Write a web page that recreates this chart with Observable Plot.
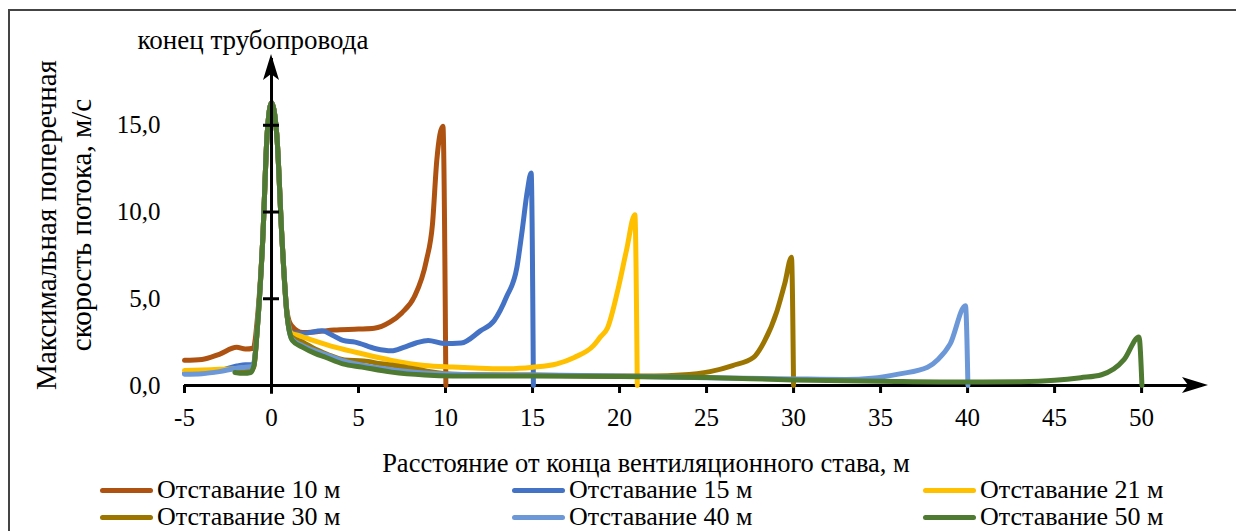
<!DOCTYPE html>
<html>
<head>
<meta charset="utf-8">
<script src="https://cdn.jsdelivr.net/npm/d3@7"></script>
<script src="https://cdn.jsdelivr.net/npm/@observablehq/plot@0.6"></script>
<style>
  html, body { margin: 0; padding: 0; background: #fff; }
  #wrap { position: relative; width: 1236px; height: 531px; overflow: hidden; font-family: "Liberation Serif", "DejaVu Serif", serif; color: #000; }
  #frame { position: absolute; left: 8px; top: 9px; width: 1400px; height: 700px; border-left: 2px solid #444; border-top: 2px solid #444; }
  #chart { position: absolute; left: 0; top: 0; }
  #chart svg, #chart svg text { font-family: "Liberation Serif", "DejaVu Serif", serif !important; }
  .t { position: absolute; white-space: nowrap; line-height: 1; }
  .ylab { position: absolute; white-space: nowrap; font-size: 29px; line-height: 1; transform: translate(-50%, -50%) rotate(-90deg); }
  .leg { position: absolute; display: flex; align-items: center; font-size: 26px; line-height: 1; white-space: nowrap; }
  .sw { width: 53px; height: 5px; border-radius: 3px; margin-right: 4px; }
</style>
</head>
<body>
<div id="wrap">
  <div id="frame"></div>
  <div id="chart"></div>
</div>
<script>
// ---- data ----
const xTicks = [-5, 0, 5, 10, 15, 20, 25, 30, 35, 40, 45, 50];
const yTicks = [0, 5, 10, 15];
const yTickLabels = ["0,0", "5,0", "10,0", "15,0"];
const seriesNames = ["Отставание 10 м", "Отставание 15 м", "Отставание 21 м", "Отставание 30 м", "Отставание 40 м", "Отставание 50 м"];
const seriesColors = ["#AE5212", "#4472C4", "#FFC000", "#9C7500", "#6D98D8", "#4E7A31"];
const titleTop = "конец трубопровода";
const yTitle = ["Максимальная поперечная", "скорость потока, м/с"];
const xTitle = "Расстояние от конца вентиляционного става, м";

const lag10 = [[-5,1.45],[-4,1.5],[-3,1.8],[-2,2.2],[-1.5,2.1],[-1.05,2.15],[-0.8,4],[-0.5,8.5],[-0.25,14.5],[0,16.3],[0.3,14.5],[0.6,8.5],[0.9,4.2],[1.15,3.45],[1.8,3.05],[2.6,3.1],[3.6,3.2],[5,3.25],[5.9,3.3],[6.8,3.65],[7.5,4.2],[8.2,5.1],[8.9,7.2],[9.25,9.3],[9.5,13],[9.85,14.95],[10.02,0]];
const lag15 = [[-5,0.7],[-4,0.72],[-3,0.85],[-2,1.12],[-1.5,1.2],[-1.05,1.2],[-0.8,3.5],[-0.5,8.5],[-0.25,14.5],[0,16.3],[0.3,14.5],[0.6,8.5],[0.9,4.0],[1.2,3.0],[1.8,3.0],[2.9,3.15],[3.5,2.9],[4.1,2.6],[4.8,2.5],[6.0,2.12],[6.9,2.0],[7.6,2.2],[8.3,2.45],[9.0,2.6],[9.9,2.42],[10.9,2.45],[12.0,3.15],[12.8,3.75],[13.5,5.1],[14.1,6.8],[14.4,8.9],[14.7,11.2],[14.92,12.25],[15.05,0]];
const lag21 = [[-5,0.87],[-4,0.9],[-3,0.93],[-2,0.96],[-1.5,1.0],[-1.05,1.0],[-0.8,3.5],[-0.5,8.5],[-0.25,14.5],[0,16.3],[0.3,14.5],[0.6,8.5],[0.9,4.0],[1.15,3.0],[1.5,2.9],[2.1,2.7],[3.7,2.2],[5.2,1.83],[6.9,1.45],[8.8,1.15],[10.4,1.06],[12,1.0],[13.5,0.96],[15,1.05],[16.4,1.25],[17.4,1.62],[18.5,2.3],[18.9,2.8],[19.3,3.3],[19.9,5.5],[20.4,7.8],[20.88,9.85],[21.02,0]];
const lag30 = [[-2.1,0.9],[-1.5,0.95],[-1.05,1.0],[-0.8,3.5],[-0.5,8.5],[-0.25,14.5],[0,16.3],[0.3,14.5],[0.6,8.5],[0.9,4.0],[1.15,2.8],[1.8,2.5],[2.5,2.1],[3.2,1.8],[4.2,1.47],[5.3,1.42],[6.3,1.25],[7.4,1.1],[8.8,0.85],[10.4,0.65],[15,0.6],[20,0.55],[22,0.55],[23.5,0.6],[25.2,0.8],[26.5,1.15],[27.7,1.62],[28.3,2.5],[29.05,4.3],[29.5,5.9],[29.88,7.4],[30.0,0]];
const lag40 = [[-5,0.65],[-4,0.68],[-3,0.8],[-2,1.0],[-1.5,1.05],[-1.05,1.1],[-0.8,3.5],[-0.5,8.5],[-0.25,14.5],[0,16.3],[0.3,14.5],[0.6,8.5],[0.9,4.0],[1.15,2.7],[1.8,2.3],[2.5,2.0],[3.2,1.75],[4.2,1.4],[5.3,1.15],[7,0.9],[8.8,0.72],[10.4,0.65],[15,0.6],[20,0.55],[25,0.45],[30,0.38],[33,0.35],[34.5,0.42],[36.1,0.67],[37.7,1.05],[38.3,1.5],[39,2.4],[39.88,4.6],[40.02,0]];
const lag50 = [[-2.1,0.75],[-1.6,0.7],[-1.2,0.75],[-1.0,1.2],[-0.8,3.5],[-0.5,8.5],[-0.25,14.5],[0,16.3],[0.3,14.5],[0.6,8.5],[0.9,4.0],[1.2,2.6],[1.8,2.2],[2.5,1.85],[3.1,1.63],[4.1,1.25],[5.2,1.06],[6.9,0.77],[8.8,0.6],[10.4,0.55],[15,0.55],[20,0.52],[25,0.46],[30,0.32],[35,0.25],[40,0.2],[43,0.22],[45,0.3],[46.5,0.45],[47.7,0.62],[49,1.5],[49.85,2.8],[50.02,0]];

const seriesData = [lag10, lag15, lag21, lag30, lag40, lag50];
const xDomain = [-5, 53.5];
const yDomain = [0, 18.85];

const rows = seriesData.flatMap((arr, i) => arr.map(([x, y]) => ({series: seriesNames[i], x, y})));

const W = 1236, H = 450, mL = 184, mR = 34, mT = 58, mB = 65;
const halfTick = 8 * (xDomain[1] - xDomain[0]) / (W - mL - mR);

const chart = Plot.plot({
  width: W, height: H,
  marginLeft: mL, marginRight: mR, marginTop: mT, marginBottom: mB,
  style: {fontFamily: "'Liberation Serif', 'DejaVu Serif', serif", fontSize: "25px", color: "#000", background: "transparent"},
  x: {domain: xDomain},
  y: {domain: yDomain},
  color: {domain: seriesNames, range: seriesColors},
  marks: [
    Plot.axisX({ticks: xTicks, tickSize: 8, tickPadding: 15, strokeWidth: 3, fontSize: 25, label: null,
      tickFormat: d => (d < 0 ? "-" + Math.abs(d) : String(d))}),
    Plot.axisY({ticks: yTicks, tickSize: 0, tickPadding: 24, fontSize: 25, label: null,
      tickFormat: d => yTickLabels[yTicks.indexOf(d)]}),
    Plot.ruleY([0], {x1: xDomain[0], x2: xDomain[1], stroke: "#000", strokeWidth: 3}),
    Plot.line(rows, {x: "x", y: "y", z: "series", stroke: "series", strokeWidth: 5, curve: "monotone-x", strokeLinejoin: "round", strokeLinecap: "round"}),
    Plot.ruleX([0], {y1: -0.5, y2: yDomain[1], stroke: "#000", strokeWidth: 3}),
    Plot.ruleY(yTicks.slice(1), {x1: -halfTick, x2: halfTick, stroke: "#000", strokeWidth: 3})
  ]
});
document.getElementById("chart").appendChild(chart);

// arrowheads at the ends of the drawn axes
const sx = chart.scale("x"), sy = chart.scale("y");
const svg = d3.select(chart);
const ax = sx.apply(xDomain[1]), ay = sy.apply(0);
svg.append("path")
  .attr("d", `M${ax + 6},${ay} L${ax - 20},${ay - 8} L${ax - 14},${ay} L${ax - 20},${ay + 8} Z`)
  .attr("fill", "#000");
const bx = sx.apply(0), by = sy.apply(yDomain[1]);
svg.append("path")
  .attr("d", `M${bx},${by - 4} L${bx - 8},${by + 22} L${bx},${by + 16} L${bx + 8},${by + 22} Z`)
  .attr("fill", "#000");

// texts
const wrap = document.getElementById("wrap");
function addText(txt, cls, left, top, extra) {
  const d = document.createElement("div");
  d.className = cls; d.textContent = txt;
  d.style.left = left + "px"; d.style.top = top + "px";
  if (extra) Object.assign(d.style, extra);
  wrap.appendChild(d);
  return d;
}
addText(titleTop, "t", 253, 40, {transform: "translate(-50%, -50%)", fontSize: "27px"});
addText(yTitle[0], "ylab", 46, 225);
addText(yTitle[1], "ylab", 81, 225);
addText(xTitle, "t", 646, 463, {transform: "translate(-50%, -50%)", fontSize: "26.5px"});

const legCols = [100, 512, 923];
const legRows = [490, 517];
seriesNames.forEach((name, i) => {
  const d = document.createElement("div");
  d.className = "leg";
  d.style.left = legCols[i % 3] + "px";
  d.style.top = legRows[Math.floor(i / 3)] + "px";
  d.style.transform = "translateY(-50%)";
  const sw = document.createElement("div");
  sw.className = "sw"; sw.style.background = seriesColors[i];
  const tx = document.createElement("span"); tx.textContent = name;
  d.appendChild(sw); d.appendChild(tx);
  wrap.appendChild(d);
});
</script>
</body>
</html>
